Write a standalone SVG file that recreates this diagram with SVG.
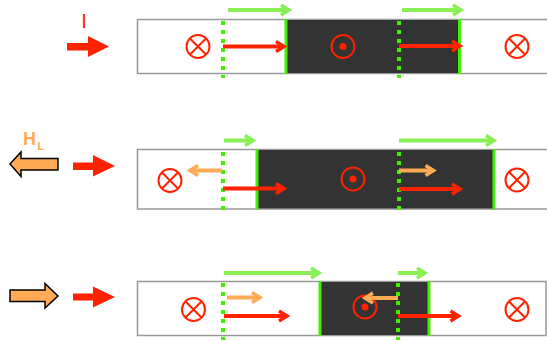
<svg xmlns="http://www.w3.org/2000/svg" width="547" height="340" viewBox="0 0 547 340">
<style>
.strip{fill:#fff;stroke:#999;stroke-width:1.5}
.dark{fill:#333;stroke:none}
.wall{stroke:#44ee00;stroke-width:3}
.dot{stroke:#44ee00;stroke-width:4;stroke-dasharray:4,5}
.red{stroke:#ff2200;stroke-width:4;fill:none}
.grn{stroke:#88f055;stroke-width:4;fill:none}
.org{stroke:#ffaa55;stroke-width:4;fill:none}
.sym{stroke:#ff2200;stroke-width:2;fill:none}
.big{fill:#ff2200;stroke:none}
.hol{fill:#ffaa55;stroke:#000;stroke-width:1.5}
</style>
<defs>
<marker id="mr" viewBox="0 0 16 16" refX="11" refY="8" markerWidth="16" markerHeight="16" markerUnits="userSpaceOnUse" orient="auto"><path d="M3,3 L11,8 L3,13" fill="none" stroke="#ff2200" stroke-width="3.5"/></marker>
<marker id="mg" viewBox="0 0 16 16" refX="11" refY="8" markerWidth="16" markerHeight="16" markerUnits="userSpaceOnUse" orient="auto"><path d="M3,3 L11,8 L3,13" fill="none" stroke="#88f055" stroke-width="3.5"/></marker>
<marker id="mo" viewBox="0 0 16 16" refX="11" refY="8" markerWidth="16" markerHeight="16" markerUnits="userSpaceOnUse" orient="auto"><path d="M3,3 L11,8 L3,13" fill="none" stroke="#ffaa55" stroke-width="3.5"/></marker>
<g id="sym-cross"><circle r="11.5" class="sym"/><path d="M-8,-8 L8,8 M-8,8 L8,-8" class="sym"/></g>
<g id="sym-dot"><circle r="11.5" class="sym"/><circle r="3.5" fill="#ff2200"/></g>
</defs>

<!-- Row 1 -->
<g id="row1">
<text x="84" y="28" font-family="Liberation Sans, Arial, sans-serif" font-size="20" fill="#ff2200" text-anchor="middle">I</text>
<polygon class="big" points="67,43 88,43 88,36 109,46.5 88,57 88,50.5 67,50.5"/>
<rect class="strip" x="137.5" y="19.5" width="412" height="54"/>
<rect class="dark" x="286" y="20" width="174" height="53"/>
<line class="wall" x1="286" y1="19" x2="286" y2="74"/>
<line class="wall" x1="459.5" y1="19" x2="459.5" y2="74"/>
<line class="dot" x1="223" y1="21" x2="223" y2="78"/>
<line class="dot" x1="399" y1="21" x2="399" y2="78"/>
<use href="#sym-cross" x="198" y="46.5"/>
<use href="#sym-dot" x="343" y="46.5"/>
<use href="#sym-cross" x="517" y="46.5"/>
</g>

<!-- Row 2 -->
<g id="row2">
<text x="23" y="145" font-family="Liberation Sans, Arial, sans-serif" font-size="18" font-weight="bold" fill="#ffaa55">H</text>
<text x="37.5" y="150" font-family="Liberation Sans, Arial, sans-serif" font-size="10.5" font-weight="bold" fill="#ffaa55">L</text>
<polygon class="hol" points="10,164 21,152 21,158.5 58,158.5 58,170 21,170 21,176.5"/>
<polygon class="big" points="73,162.5 93,162.5 93,155 115,166 93,176.5 93,170 73,170"/>
<rect class="strip" x="137.5" y="149.5" width="412" height="59.5"/>
<rect class="dark" x="257" y="150" width="237" height="58.5"/>
<line class="wall" x1="257" y1="149" x2="257" y2="209.5"/>
<line class="wall" x1="494" y1="149" x2="494" y2="209.5"/>
<line class="dot" x1="223" y1="152" x2="223" y2="212"/>
<line class="dot" x1="399" y1="152" x2="399" y2="212"/>
<use href="#sym-cross" x="170" y="180.5"/>
<use href="#sym-dot" x="353" y="179"/>
<use href="#sym-cross" x="517" y="180"/>
</g>

<!-- Row 3 -->
<g id="row3">
<polygon class="hol" points="10,290 45,290 45,283.5 58,296 45,308 45,301.5 10,301.5"/>
<polygon class="big" points="73,293.5 93,293.5 93,286.5 115,297 93,307.5 93,300.5 73,300.5"/>
<rect class="strip" x="137.5" y="281.5" width="408.5" height="54"/>
<rect class="dark" x="320" y="282" width="109" height="53"/>
<line class="wall" x1="320" y1="281" x2="320" y2="336"/>
<line class="wall" x1="429" y1="281" x2="429" y2="336"/>
<line class="dot" x1="223" y1="283" x2="223" y2="340"/>
<line class="dot" x1="398" y1="283" x2="398" y2="340"/>
<use href="#sym-cross" x="193.5" y="309.5"/>
<use href="#sym-dot" x="365" y="307"/>
<use href="#sym-cross" x="517" y="309.5"/>
</g>

<!-- Connectors / arrows -->
<g id="arrows">
<line class="grn" x1="228" y1="10" x2="289" y2="10" marker-end="url(#mg)"/>
<line class="grn" x1="402" y1="10" x2="461" y2="10" marker-end="url(#mg)"/>
<line class="red" x1="223" y1="46.5" x2="284" y2="46.5" marker-end="url(#mr)"/>
<line class="red" x1="399" y1="46" x2="460" y2="46" marker-end="url(#mr)"/>

<line class="grn" x1="224" y1="140.5" x2="253" y2="140.5" marker-end="url(#mg)"/>
<line class="grn" x1="399" y1="140.5" x2="494" y2="140.5" marker-end="url(#mg)"/>
<line class="org" x1="222" y1="170.5" x2="190" y2="170.5" marker-end="url(#mo)"/>
<line class="red" x1="223" y1="188.5" x2="284" y2="188.5" marker-end="url(#mr)"/>
<line class="org" x1="399" y1="170.5" x2="433.5" y2="170.5" marker-end="url(#mo)"/>
<line class="red" x1="399" y1="189" x2="460" y2="189" marker-end="url(#mr)"/>

<line class="grn" x1="224" y1="273" x2="319" y2="273" marker-end="url(#mg)"/>
<line class="grn" x1="398" y1="273" x2="425" y2="273" marker-end="url(#mg)"/>
<line class="org" x1="227" y1="297.5" x2="260" y2="297.5" marker-end="url(#mo)"/>
<line class="org" x1="398" y1="298" x2="365" y2="298" marker-end="url(#mo)"/>
<line class="red" x1="224" y1="316" x2="287" y2="316" marker-end="url(#mr)"/>
<line class="red" x1="398" y1="316" x2="458.5" y2="316" marker-end="url(#mr)"/>
</g>
</svg>
